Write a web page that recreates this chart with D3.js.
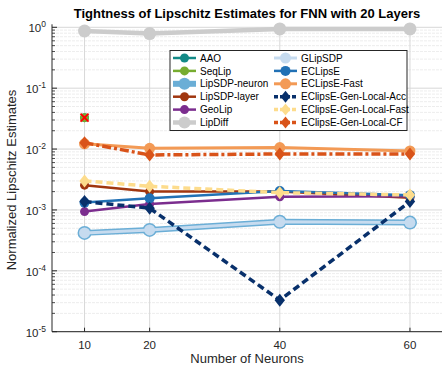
<!DOCTYPE html>
<html>
<head>
<meta charset="utf-8">
<script src="https://cdn.jsdelivr.net/npm/d3@7"></script>
<style>
  body { margin: 0; background: #fff; }
  svg { font-family: "Liberation Sans", Arial, Helvetica, sans-serif; }
</style>
</head>
<body>
<div id="chart"></div>
<script>
// chart data
const neurons = [10, 20, 40, 60];
const xTicks = [10, 20, 40, 60];
const yTicks = [1e-5, 1e-4, 1e-3, 1e-2, 1e-1, 1];

const aao = [0.0328, null, null, null];
const seqLip = [0.0328, null, null, null];
const lipsdpNeuron = [0.00042, 0.00047, 0.00064, 0.00062];
const lipsdpLayer = [0.00255, 0.0020, 0.0020, 0.00158];
const geoLip = [0.00094, 0.00125, 0.00165, 0.00168];
const lipDiff = [0.87, 0.79, 0.94, 0.94];
const glipsdp = [0.00042, 0.00047, 0.00064, 0.00062];
const eclipse = [0.00132, 0.00155, 0.00205, 0.00175];
const eclipseFast = [0.0122, 0.0103, 0.0106, 0.0093];
const genLocalAcc = [0.00137, 0.00107, 0.000033, 0.00137];
const genLocalFast = [0.0030, 0.00245, 0.00192, 0.00176];
const genLocalCF = [0.0127, 0.0080, 0.0083, 0.0083];
const failedMark = [0.0328, null, null, null];

const series = [
  { name: "AAO", values: aao, color: "#138a87", width: 2.5, dash: null, marker: "circle", r: 4.5 },
  { name: "SeqLip", values: seqLip, color: "#77ac30", width: 2.5, dash: null, marker: "circle", r: 4.5 },
  { name: "LipSDP-neuron", values: lipsdpNeuron, color: "#6baed6", width: 6, dash: null, marker: "circle", r: 7 },
  { name: "LipSDP-layer", values: lipsdpLayer, color: "#a0360f", width: 2.5, dash: null, marker: "circle", r: 4.5 },
  { name: "GeoLip", values: geoLip, color: "#7b2d8e", width: 2.5, dash: null, marker: "circle", r: 4.5 },
  { name: "LipDiff", values: lipDiff, color: "#cccccc", width: 4.5, dash: null, marker: "circle", r: 6.5 },
  { name: "GLipSDP", values: glipsdp, color: "#c6dbef", width: 3, dash: null, marker: "circle", r: 5.5 },
  { name: "ECLipsE", values: eclipse, color: "#2171b5", width: 2.5, dash: null, marker: "circle", r: 5 },
  { name: "ECLipsE-Fast", values: eclipseFast, color: "#f39a55", width: 3, dash: null, marker: "circle", r: 5.5 },
  { name: "EClipsE-Gen-Local-Acc", values: genLocalAcc, color: "#08306b", width: 3.5, dash: "7,4", marker: "diamond", r: 6.5 },
  { name: "EClipsE-Gen-Local-Fast", values: genLocalFast, color: "#fddc8c", width: 3.5, dash: "7,4", marker: "diamond", r: 6.5 },
  { name: "EClipsE-Gen-Local-CF", values: genLocalCF, color: "#d95319", width: 3.5, dash: "9,3,3,3", marker: "diamond", r: 6.5 }
];

const W = 442, H = 368;
const svg = d3.select("#chart").append("svg").attr("width", W).attr("height", H);

const x = d3.scaleLinear().domain([5, 65]).range([52, 442.5]);
const y = d3.scaleLog().domain([1e-5, 1]).range([331.7, 27.3]);

// grid
const grid = svg.append("g");
const minorVals = [];
for (let e = -5; e < 0; e++) {
  for (let k = 2; k <= 9; k++) minorVals.push(k * Math.pow(10, e));
}
grid.selectAll(".minor").data(minorVals).join("line")
  .attr("x1", x(5)).attr("x2", W)
  .attr("y1", d => y(d)).attr("y2", d => y(d))
  .attr("stroke", "#e8e8e8").attr("stroke-width", 0.8).attr("stroke-dasharray", "3,1");
grid.selectAll(".major").data(yTicks).join("line")
  .attr("x1", x(5)).attr("x2", W)
  .attr("y1", d => y(d)).attr("y2", d => y(d))
  .attr("stroke", "#d8d8d8").attr("stroke-width", 1);
grid.selectAll(".vx").data(xTicks).join("line")
  .attr("x1", d => x(d)).attr("x2", d => x(d))
  .attr("y1", y(1e-5)).attr("y2", y(1))
  .attr("stroke", "#d8d8d8").attr("stroke-width", 1);

// axes
const axisColor = "#262626";
const ax = svg.append("g");
ax.append("line").attr("x1", x(5)).attr("x2", x(5)).attr("y1", y(1e-5)).attr("y2", y(1) - 3)
  .attr("stroke", axisColor).attr("stroke-width", 1);
ax.append("line").attr("x1", x(5)).attr("x2", W).attr("y1", y(1e-5)).attr("y2", y(1e-5))
  .attr("stroke", axisColor).attr("stroke-width", 1);
ax.selectAll(".ymaj").data(yTicks).join("line")
  .attr("x1", x(5)).attr("x2", x(5) + 5)
  .attr("y1", d => y(d)).attr("y2", d => y(d)).attr("stroke", axisColor);
ax.selectAll(".ymin").data(minorVals).join("line")
  .attr("x1", x(5)).attr("x2", x(5) + 3)
  .attr("y1", d => y(d)).attr("y2", d => y(d)).attr("stroke", axisColor).attr("stroke-width", 0.8);
ax.selectAll(".xt").data(xTicks).join("line")
  .attr("x1", d => x(d)).attr("x2", d => x(d))
  .attr("y1", y(1e-5)).attr("y2", y(1e-5) - 4).attr("stroke", axisColor);

ax.selectAll(".xl").data(xTicks).join("text")
  .attr("x", d => x(d)).attr("y", 349)
  .attr("text-anchor", "middle").attr("font-size", 11.5).attr("fill", axisColor)
  .text(d => d);

const yl = ax.selectAll(".yl").data(yTicks).join("text")
  .attr("x", 46).attr("y", d => y(d) + 5)
  .attr("text-anchor", "end").attr("font-size", 11.5).attr("fill", axisColor);
yl.append("tspan").text("10");
yl.append("tspan").attr("dy", -5).attr("font-size", 8.5).text(d => Math.round(Math.log10(d)));

svg.append("text").attr("x", 247).attr("y", 363).attr("text-anchor", "middle")
  .attr("font-size", 13).attr("fill", axisColor).text("Number of Neurons");
svg.append("text").attr("transform", "translate(16,180) rotate(-90)").attr("text-anchor", "middle")
  .attr("font-size", 13).attr("fill", axisColor).text("Normalized Lipschitz Estimates");
svg.append("text").attr("x", 247).attr("y", 18).attr("text-anchor", "middle")
  .attr("font-size", 13).attr("font-weight", "bold").attr("fill", "#000")
  .text("Tightness of Lipschitz Estimates for FNN with 20 Layers");

// series
const line = d3.line()
  .defined(d => d.v != null)
  .x(d => x(d.n)).y(d => y(d.v));
const diamond = r => `M0,${-r}L${r * 0.8},0L0,${r}L${-r * 0.8},0Z`;

const plot = svg.append("g");
series.forEach(s => {
  const pts = neurons.map((n, i) => ({ n, v: s.values[i] })).filter(d => d.v != null);
  const g = plot.append("g");
  g.append("path").datum(pts).attr("d", line)
    .attr("fill", "none").attr("stroke", s.color).attr("stroke-width", s.width)
    .attr("stroke-dasharray", s.dash);
  if (s.marker === "circle") {
    g.selectAll("circle").data(pts).join("circle")
      .attr("cx", d => x(d.n)).attr("cy", d => y(d.v)).attr("r", s.r)
      .attr("fill", s.color);
  } else {
    g.selectAll("path.m").data(pts).join("path").attr("class", "m")
      .attr("transform", d => `translate(${x(d.n)},${y(d.v)})`)
      .attr("d", diamond(s.r)).attr("fill", s.color);
  }
});

// red cross marks
plot.selectAll(".xm").data(neurons.map((n, i) => ({ n, v: failedMark[i] })).filter(d => d.v != null))
  .join("path")
  .attr("transform", d => `translate(${x(d.n)},${y(d.v)})`)
  .attr("d", "M-4,-4L4,4M-4,4L4,-4")
  .attr("stroke", "#ff0000").attr("stroke-width", 2);

// legend
const lg = svg.append("g");
lg.append("rect").attr("x", 170).attr("y", 50.5).attr("width", 237).attr("height", 80)
  .attr("fill", "#fff").attr("stroke", "#262626").attr("stroke-width", 1);
series.forEach((s, i) => {
  const col = Math.floor(i / 6), row = i % 6;
  const x0 = col === 0 ? 173 : 274;
  const yy = 58 + row * 12.9;
  const g = lg.append("g");
  g.append("line").attr("x1", x0).attr("x2", x0 + 23).attr("y1", yy).attr("y2", yy)
    .attr("stroke", s.color).attr("stroke-width", s.width)
    .attr("stroke-dasharray", s.dash ? "4,2" : null);
  const r = Math.min(s.r, 6);
  if (s.marker === "circle") {
    g.append("circle").attr("cx", x0 + 11.5).attr("cy", yy).attr("r", r).attr("fill", s.color);
  } else {
    g.append("path").attr("transform", `translate(${x0 + 11.5},${yy})`).attr("d", diamond(r)).attr("fill", s.color);
  }
  g.append("text").attr("x", x0 + 27).attr("y", yy + 3.6).attr("font-size", 10)
    .attr("fill", "#000").text(s.name);
});
</script>
</body>
</html>
